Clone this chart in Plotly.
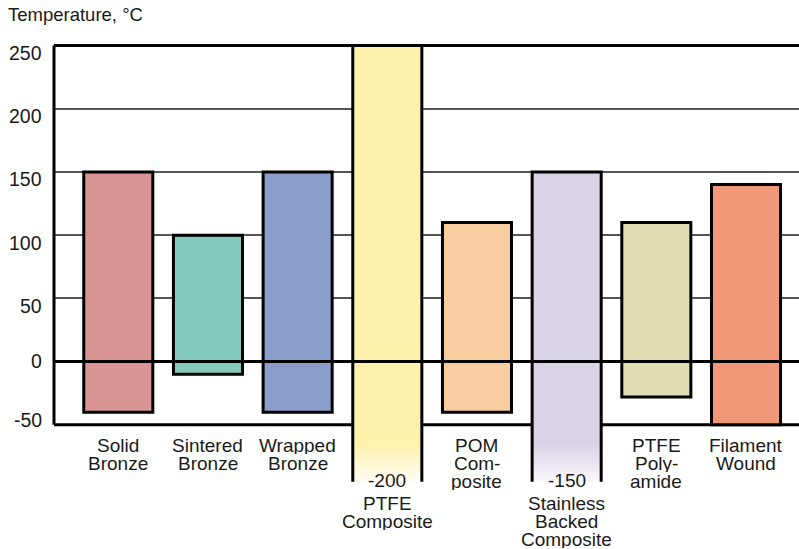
import plotly.graph_objects as go

# ---------------- data ----------------
category_lines = [
    ["Solid", "Bronze"],
    ["Sintered", "Bronze"],
    ["Wrapped", "Bronze"],
    ["PTFE", "Composite"],
    ["POM", "Com-", "posite"],
    ["Stainless", "Backed", "Composite"],
    ["PTFE", "Poly-", "amide"],
    ["Filament", "Wound"],
]
temp_max = [150, 100, 150, 250, 110, 150, 110, 140]
temp_min = [-40, -10, -40, -200, -40, -150, -28, -50]
bar_colors = ["#D99594", "#85CBBB", "#8B9DCA", "#FEF1AC",
              "#F9CDA0", "#DAD2E6", "#E0DFB4", "#F19878"]
ytick_values = [250, 200, 150, 100, 50, 0, -50]
grid_values = [50, 100, 150, 200]
axis_min, axis_max = -50, 250
title_text = "Temperature, °C"

# ---------------- style ----------------
FONT = "Liberation Sans, Arial, Helvetica, sans-serif"
TXT = "#1a1a1a"
FS = 19
LINE_BOX = 17      # box height of one label line (tight leading as in the original)
bar_w = 0.77
y_cut = -95        # where off-scale bars are visually cut off
fade_start = -65   # where the fade of off-scale bars begins
LW = 3


def mix_white(hex_color, t):
    h = hex_color.lstrip("#")
    r, g, b = (int(h[i:i + 2], 16) for i in (0, 2, 4))
    r = round(r + (255 - r) * t)
    g = round(g + (255 - g) * t)
    b = round(b + (255 - b) * t)
    return f"rgb({r},{g},{b})"


fig = go.Figure()

# regular bars (fully inside the scale)
reg = [i for i in range(len(temp_max)) if temp_min[i] >= axis_min]
fig.add_trace(go.Bar(
    x=reg,
    y=[temp_max[i] - temp_min[i] for i in reg],
    base=[temp_min[i] for i in reg],
    width=bar_w,
    marker=dict(color=[bar_colors[i] for i in reg],
                line=dict(color="black", width=LW)),
    hoverinfo="skip", showlegend=False,
))

# off-scale bars: open at the bottom, fading out
off = [i for i in range(len(temp_max)) if temp_min[i] < axis_min]
for i in off:
    top = temp_max[i]
    frac = (fade_start - y_cut) / (top - y_cut)
    fig.add_trace(go.Scatter(
        x=[i - bar_w / 2, i - bar_w / 2, i + bar_w / 2, i + bar_w / 2],
        y=[y_cut, top, top, y_cut],
        mode="lines", fill="toself",
        fillgradient=dict(type="vertical",
                          colorscale=[[0, mix_white(bar_colors[i], 0.85)],
                                      [frac, bar_colors[i]],
                                      [1, bar_colors[i]]],
                          start=y_cut, stop=top),
        line=dict(color="black", width=LW),
        hoverinfo="skip", showlegend=False,
    ))

shapes = [
    # frame
    dict(type="line", xref="paper", x0=0, x1=1, yref="y", y0=axis_min, y1=axis_min,
         line=dict(color="black", width=LW), layer="below"),
    dict(type="line", xref="paper", x0=0, x1=1, yref="y", y0=axis_max, y1=axis_max,
         line=dict(color="black", width=LW), layer="below"),
    dict(type="line", xref="paper", x0=0, x1=0, yref="y", y0=axis_min, y1=axis_max,
         line=dict(color="black", width=LW), layer="above"),
    # zero line over bars
    dict(type="line", xref="paper", x0=0, x1=1, yref="y", y0=0, y1=0,
         line=dict(color="black", width=LW), layer="above"),
]

annotations = []
# y tick labels
tick_shift = {0: 1, -50: 5}
for v in ytick_values:
    annotations.append(dict(
        xref="paper", x=0, xanchor="right", xshift=-10,
        yref="y", y=v, yanchor="middle", yshift=tick_shift.get(v, -7.5),
        text=str(v), showarrow=False,
        font=dict(family=FONT, size=19.5, color=TXT)))

# category labels
for i, lines in enumerate(category_lines):
    if temp_min[i] < axis_min:
        annotations.append(dict(
            xref="x", x=i, xanchor="center", yref="y", y=axis_min,
            yanchor="middle", yshift=-56, text=str(temp_min[i]), showarrow=False,
            height=LINE_BOX, borderpad=0,
            font=dict(family=FONT, size=FS, color=TXT)))
        first = 78.5
    else:
        first = 20.7
    for k, line in enumerate(lines):
        annotations.append(dict(
            xref="x", x=i, xanchor="center", yref="y", y=axis_min,
            yanchor="middle", yshift=-(first + 18.2 * k), text=line,
            height=LINE_BOX, borderpad=0,
            showarrow=False, font=dict(family=FONT, size=FS, color=TXT)))

# axis title
annotations.append(dict(
    xref="paper", x=0, xanchor="left", xshift=-48,
    yref="paper", y=1, yanchor="middle", yshift=28.5,
    text=title_text, showarrow=False,
    font=dict(family=FONT, size=18.5, color=TXT)))

fig.update_layout(
    width=799, height=549, autosize=False,
    margin=dict(l=54, r=0, t=43, b=61.45, pad=0),
    paper_bgcolor="white", plot_bgcolor="white",
    showlegend=False,
    xaxis=dict(range=[-0.717, 7.591], showgrid=False, zeroline=False,
               showticklabels=False, showline=False, ticks=""),
    yaxis=dict(range=[-100, 252], tickvals=grid_values, showticklabels=False,
               showgrid=True, gridcolor="#555555", gridwidth=1.5,
               zeroline=False, showline=False, ticks=""),
    shapes=shapes, annotations=annotations,
)

fig.write_html("out.html", config={"displayModeBar": False},
               post_script="document.body.style.margin='0';document.body.style.padding='0';")
